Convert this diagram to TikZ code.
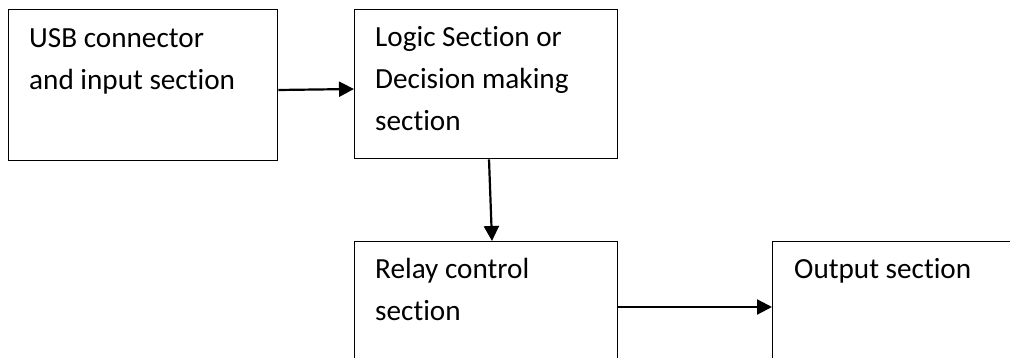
\documentclass[tikz,border=0pt]{standalone}
\usepackage{fontspec}
\setmainfont{Carlito}[Ligatures=NoCommon]
\usetikzlibrary{arrows.meta}
\begin{document}
\begin{tikzpicture}[x=1pt,y=-1pt,
  box/.style={draw, line width=1.3pt, rectangle, inner sep=0pt, anchor=north west},
  lbl/.style={anchor=base west, inner sep=0pt, align=left, font=\fontsize{29.2}{42}\selectfont},
  conn/.style={line width=2.2pt, -{Triangle[length=15pt,width=15pt]}}]
\useasboundingbox (0,0) rectangle (1010,358);
\clip (0,0) rectangle (1010,358);
\node[box, minimum width=269pt, minimum height=151pt] (b1) at (8,9) {};
\node[box, minimum width=263pt, minimum height=149pt] (b2) at (354,9) {};
\node[box, minimum width=263pt, minimum height=160pt] (b3) at (354,241) {};
\node[box, minimum width=280pt, minimum height=160pt] (b4) at (772,241) {};
\node[lbl] (t1) at ([xshift=21pt,yshift=-81pt]b1.north west) {USB connector\\and input section};
\node[lbl] (t2) at ([xshift=21pt,yshift=-122pt]b2.north west) {Logic Section or\\Decision making\\section};
\node[lbl] (t3) at ([xshift=21pt,yshift=-79pt]b3.north west) {Relay control\\section};
\node[lbl] (t4) at ([xshift=22pt,yshift=-38pt]b4.north west) {Output section};
\draw[conn] ([yshift=-81pt]b1.north east) -- ([yshift=-80pt]b2.north west);
\draw[conn] ([xshift=135pt]b2.south west) -- ([xshift=138pt]b3.north west);
\draw[conn] ([yshift=-66pt]b3.north east) -- ([yshift=-66pt]b4.north west);
\end{tikzpicture}
\end{document}
